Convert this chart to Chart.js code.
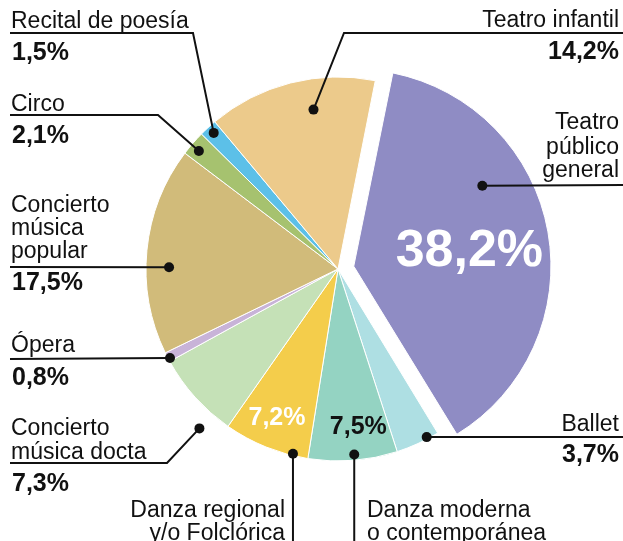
<!DOCTYPE html>
<html>
<head>
<meta charset="utf-8">
<script src="https://cdn.jsdelivr.net/npm/chart.js@4.4.0/dist/chart.umd.min.js"></script>
<style>
  html, body { margin: 0; padding: 0; background: #fff; }
</style>
</head>
<body>
<canvas id="myChart" width="623" height="541"></canvas>
<script>
// data, clockwise from the exploded slice
const categories = [
  "Teatro público general",
  "Ballet",
  "Danza moderna o contemporánea",
  "Danza regional y/o Folclórica",
  "Concierto música docta",
  "Ópera",
  "Concierto música popular",
  "Circo",
  "Recital de poesía",
  "Teatro infantil",
];
const shares = [38.2, 3.7, 7.5, 7.2, 7.3, 0.8, 17.5, 2.1, 1.5, 14.2];
const colors = [
  "#8f8cc4", "#aedfe3", "#94d3c2", "#f4cd4b", "#c5e1b7",
  "#c8b3d8", "#d1bb7a", "#a6c26f", "#5cc0e8", "#ecca8b",
];

const FONT = '"Liberation Sans", Arial, sans-serif';
const pct = (v) => v.toFixed(1).replace(".", ",") + "%";

// callout layout: which slice, where the dot sits inside it (t = along the arc, rf = share of radius),
// how the name wraps (words per line), text position and the leader path
const callouts = [
  { i: 8, t: 0.54, rf: 0.96, words: [3], align: "left", x: 11, y: [28], vy: 60, path: [[10, 33], [193, 33]] },
  { i: 7, t: 0.42, rf: 0.95, words: [1], align: "left", x: 11, y: [111], vy: 143, path: [[10, 115], [158, 115]] },
  { i: 6, t: 0.42, rf: 0.88, words: [1, 1, 1], align: "left", x: 11, y: [212, 235, 258], vy: 290, path: [[10, 267]] },
  { i: 5, t: 0.3, rf: 0.99, words: [1], align: "left", x: 11, y: [352], vy: 385, path: [[10, 359]] },
  { i: 4, t: 0.23, rf: 1.1, words: [1, 2], align: "left", x: 11, y: [435, 459], vy: 491, path: [[10, 463], [167, 463]] },
  { i: 3, t: 0.18, rf: 0.99, words: [2, 2], align: "right", x: 285, y: [517, 540], drop: 545 },
  { i: 2, t: 0.48, rf: 0.97, words: [2, 2], align: "left", x: 367, y: [517, 540], drop: 545 },
  { i: 1, t: 0.26, rf: 0.99, words: [1], align: "right", x: 619, y: [431], vy: 462, path: [[623, 437]] },
  { i: 0, t: 0.34, rf: 0.79, words: [1, 1, 1], align: "right", x: 619, y: [129, 154, 177], path: [[623, 185]] },
  { i: 9, t: 0.61, rf: 0.84, words: [2], align: "right", x: 619, y: [27], vy: 59, path: [[623, 33], [344, 33]] },
];

// values written inside slices
const inner = [
  { i: 0, t: 0.506, rf: 0.61, size: 52, color: "#fff" },
  { i: 3, t: 0.52, rf: 0.83, size: 25, color: "#fff" },
  { i: 2, t: 0.39, rf: 0.82, size: 25, color: "#111" },
];

function wrap(text, counts) {
  const w = text.split(" ");
  const out = [];
  let k = 0;
  counts.forEach((n) => { out.push(w.slice(k, k + n).join(" ")); k += n; });
  return out;
}

// point inside an arc element, following the same offset shift Chart.js applies
function arcPoint(el, t, rf) {
  let cx = el.x, cy = el.y;
  const off = (el.options.offset || 0) / 4;
  if (off) {
    const h = (el.startAngle + el.endAngle) / 2;
    cx += Math.cos(h) * off;
    cy += Math.sin(h) * off;
  }
  const a = el.startAngle + (el.endAngle - el.startAngle) * t;
  return { x: cx + Math.cos(a) * el.outerRadius * rf, y: cy + Math.sin(a) * el.outerRadius * rf };
}

const calloutPlugin = {
  id: "callouts",
  afterDatasetsDraw(chart) {
    const ctx = chart.ctx;
    const arcs = chart.getDatasetMeta(0).data;
    ctx.save();
    ctx.fillStyle = "#111";
    ctx.strokeStyle = "#111";
    ctx.lineWidth = 2;
    ctx.textBaseline = "alphabetic";
    callouts.forEach((c) => {
      const p = arcPoint(arcs[c.i], c.t, c.rf);
      ctx.beginPath();
      if (c.drop) {
        ctx.moveTo(p.x, p.y);
        ctx.lineTo(p.x, c.drop);
      } else {
        ctx.moveTo(c.path[0][0], c.path[0][1]);
        c.path.slice(1).forEach((q) => ctx.lineTo(q[0], q[1]));
        ctx.lineTo(p.x, p.y);
      }
      ctx.stroke();
      ctx.beginPath();
      ctx.arc(p.x, p.y, 5, 0, Math.PI * 2);
      ctx.fill();

      ctx.textAlign = c.align;
      ctx.font = "23px " + FONT;
      wrap(categories[c.i], c.words).forEach((ln, k) => ctx.fillText(ln, c.x, c.y[k]));
      if (c.vy) {
        ctx.font = "bold 25px " + FONT;
        ctx.fillText(pct(shares[c.i]), c.align === "left" ? c.x + 1 : c.x, c.vy);
      }
    });
    inner.forEach((c) => {
      const p = arcPoint(arcs[c.i], c.t, c.rf);
      ctx.font = "bold " + c.size + "px " + FONT;
      ctx.textAlign = "center";
      ctx.fillStyle = c.color;
      ctx.fillText(pct(shares[c.i]), p.x, p.y + c.size * 0.358);
    });
    ctx.restore();
  },
};

const chart = new Chart(document.getElementById("myChart"), {
  type: "pie",
  data: {
    labels: categories,
    datasets: [
      {
        data: shares,
        backgroundColor: colors,
        borderColor: "#ffffff",
        borderWidth: 1,
        offset: shares.map((v, i) => (i === 0 ? 64 : 0)),
        hoverOffset: 0,
      },
    ],
  },
  options: {
    responsive: false,
    animation: false,
    rotation: 11.2,
    radius: 192,
    layout: { padding: { left: 60, right: 7, top: 0, bottom: 3 } },
    plugins: {
      legend: { display: false },
      tooltip: { enabled: false },
    },
  },
  plugins: [calloutPlugin],
});
</script>
</body>
</html>
